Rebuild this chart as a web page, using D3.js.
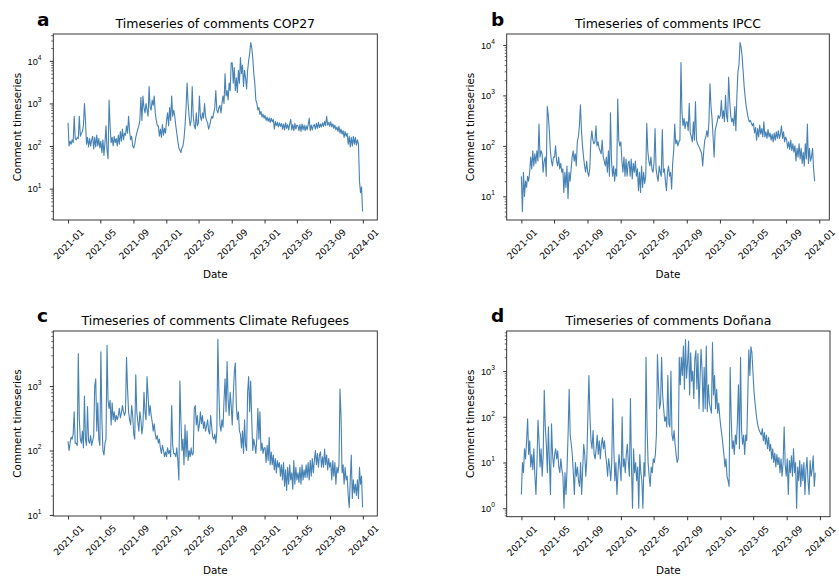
<!DOCTYPE html>
<html><head><meta charset="utf-8">
<script src="https://cdn.jsdelivr.net/npm/d3@7/dist/d3.min.js"></script>
<style>
body{margin:0;background:#fff}
svg{display:block;font-family:"DejaVu Sans",sans-serif}
</style>
</head><body>
<svg id="chart" width="839" height="577"></svg>
<script>
// ---------- DATA (~8 samples per month) ----------
const cop27Values = [
350,100,130,110,140,120,500,150, 140,160,150,500,170,200,220,300, 1000,400,110,160,95,150,100,140,
170,85,160,95,180,100,150,90, 130,70,140,60,120,300,80,50, 1200,300,120,160,100,170,120,150,
100,180,110,220,130,250,140,200, 180,300,200,500,220,140,170,100, 90,110,160,200,250,300,400,1400,
400,1500,800,600,1000,700,500,2500, 800,700,1200,900,1500,600,400,300, 300,170,250,160,320,180,260,200,
400,600,300,800,400,1500,500,700, 500,300,200,130,90,80,70,90, 100,150,300,800,3000,1000,500,300,
400,2500,500,300,250,600,300,350, 1500,500,400,600,450,1000,500,400, 350,250,300,400,500,450,600,800,
2000,700,600,800,900,600,1000,1500, 1000,5000,1500,2000,1200,3000,2000,9000, 9000,3000,7000,2000,4000,1800,6000,3000,
12000,5000,8000,2500,6000,4000,2200,6000, 10000,15000,27000,20000,12000,5000,3000,1200, 1000,700,800,550,650,480,560,450,
520,400,480,380,460,360,450,370, 420,250,380,300,360,280,350,290, 340,250,330,240,350,260,320,240,
330,420,240,320,230,340,250,310, 300,230,320,220,330,240,310,230, 300,240,320,450,230,310,240,300,
320,250,340,260,360,270,330,280, 350,290,380,300,500,310,360,290, 370,280,330,260,310,240,280,220,
290,200,250,190,230,160,220,170, 200,110,170,95,160,100,170,110, 160,105,140,110,15,8,11,2.9
];
const ipccValues = [
25,5,30,10,20,15,25,20, 30,60,35,80,40,70,45,80, 50,270,60,80,70,30,50,60,
25,600,400,200,80,50,40,60, 60,100,50,40,60,35,45,30, 35,12,30,15,40,9,30,20,
35,60,80,50,70,40,120,150, 250,650,200,100,60,40,30,50, 30,25,35,120,200,130,110,120,
250,100,120,90,80,70,130,60, 50,40,60,30,80,25,450,50, 25,40,20,35,25,850,130,100,
120,50,30,60,25,55,25,45, 50,25,55,22,45,30,50,25, 35,13,30,12,40,15,30,18,
25,280,80,50,40,60,35,30, 45,220,35,25,20,40,30,25, 210,30,35,20,13,30,40,25,
30,14,45,80,270,110,130,100, 120,130,4500,450,250,350,220,300, 300,200,700,180,150,120,300,130,
750,130,110,100,90,80,70,40, 80,130,150,200,150,300,1700,600, 350,150,60,200,250,300,400,350,
400,800,350,500,300,1000,400,300, 2300,800,400,300,350,250,600,200, 1000,3000,4000,11200,9000,6000,3000,1500,
900,600,450,350,300,320,280,250, 280,180,230,130,220,150,260,170, 220,150,300,150,190,140,210,150,
180,130,170,120,180,130,190,140, 200,140,170,250,140,190,120,150, 130,90,120,85,130,80,110,75,
100,50,90,60,110,55,90,45, 75,40,110,55,270,45,90,50, 60,90,35,20
];
const refugeesValues = [
140,100,130,160,150,180,400,130, 130,120,3200,300,150,130,200,110, 700,150,120,480,140,130,170,120,
140,170,1000,1300,200,550,150,120, 3400,300,100,85,130,150,4300,600, 450,600,250,550,300,400,280,350,
300,350,450,320,380,500,400,350, 400,2800,900,400,300,250,500,350, 180,150,1500,400,280,200,400,300,
180,250,800,400,300,1400,700,350, 500,350,280,200,260,180,150,170, 130,150,110,90,120,100,80,95,
80,110,90,100,80,500,120,90, 90,80,110,70,35,1200,300,100, 150,60,250,80,200,70,100,80,
110,85,90,450,500,250,350,200, 250,400,260,350,220,280,200,240, 300,200,180,350,230,160,150,180,
130,200,5300,800,250,200,300,230, 600,1300,400,2400,600,350,800,500, 250,700,1600,2300,500,300,400,200,
180,110,200,90,300,120,100,800, 1400,400,1200,300,100,150,120,90, 160,450,150,400,100,130,90,110,
110,65,120,70,160,60,95,60, 85,50,75,45,70,55,65,40, 60,35,65,28,50,24,55,30,
60,35,45,25,70,30,55,35, 45,32,55,30,60,35,50,38, 60,38,65,35,70,40,75,45,
70,100,60,90,55,85,95,55, 80,55,105,60,85,50,75,55, 65,35,70,40,65,30,55,45,
60,900,350,45,60,30,55,35, 40,20,13,35,85,18,35,22, 30,20,35,18,55,30,40,13
];
const donanaValues = [
2,10,6,20,12,30,90,15, 30,8,15,7,20,5,2,10, 85,30,8,20,5,15,380,60,
25,6,60,10,2,70,15,8, 15,20,12,18,8,6,12,7, 5,1,6,2,8,45,400,40,
25,15,6,2,10,5,8,4, 3,10,2,7,25,15,5,12, 100,800,100,30,20,50,15,12,
20,40,15,30,12,25,35,20, 30,15,10,5,12,8,4,10, 250,20,4,10,2,6,15,8,
4,100,8,12,6,15,25,10, 5,250,8,1,20,6,10,4, 8,1,15,6,4,1,10,5,
2000,60,10,5,3,8,6,12, 10,15,40,2300,500,150,200,2000, 300,150,80,100,60,800,70,60,
1000,40,30,50,25,15,10,12, 2000,500,2000,800,3500,400,4900,700, 1500,4500,300,2500,600,1000,250,1800,
2800,400,2400,150,700,3000,1000,130, 1200,150,3500,130,500,200,150,120, 4200,300,800,150,400,120,200,100,
60,40,25,15,8,12,5,4, 3,1200,100,20,30,15,40,25, 80,500,20,2000,50,25,40,15,
40,30,300,2900,800,3400,2500,900, 350,200,120,80,60,50,45,40, 55,30,45,25,40,20,35,18,
25,12,20,10,16,8,15,9, 13,6,12,5,10,60,9,5, 12,2,11,6,14,5,20,6,
10,1,8,4,11,3,9,4, 10,2,7,13,4,2,11,5, 7,14,3,6
];
const seriesStart = ["2021-01-01","2021-01-01","2021-01-01","2021-01-01"];
const seriesEnd   = ["2023-12-31","2023-12-15","2023-12-31","2023-12-15"];
const titles = ["Timeseries of comments COP27","Timeseries of comments IPCC",
                "Timeseries of comments Climate Refugees","Timeseries of comments Doñana"];
const letters = ["a","b","c","d"];
const xTickLabels = ["2021-01","2021-05","2021-09","2022-01","2022-05","2022-09","2023-01","2023-05","2023-09","2024-01"];
const yTickExponents = [[1,2,3,4],[1,2,3,4],[1,2,3],[0,1,2,3]];
const xLabel = "Date";
const yLabel = "Comment timeseries";

// ---------- LAYOUT ----------
const boxes = [
  {l:53.3, r:377.3, t:34, b:220, ylabX:20.5, xlabY:278, letX:37, letY:26},
  {l:506.7, r:829.3, t:34, b:220, ylabX:474, xlabY:278, letX:491, letY:26},
  {l:53.3, r:377.3, t:331, b:516, ylabX:20.5, xlabY:574, letX:37, letY:322},
  {l:506.7, r:830, t:331, b:516.7, ylabX:474, xlabY:574, letX:491, letY:322}
];
const allValues = [cop27Values, ipccValues, refugeesValues, donanaValues];
const lineColor = "#4682b4";
const tickFont = 9.2, labelFont = 10.4, titleFont = 12.5;
const majorLen = 3.5, minorLen = 2, tickPad = 3.6;

const svg = d3.select("#chart");
const parseDay = d3.timeParse("%Y-%m-%d");
const parseMonth = d3.timeParse("%Y-%m");
const fmtMonth = d3.timeFormat("%Y-%m");

allValues.forEach((vals, p) => {
  const bx = boxes[p];
  const s = parseDay(seriesStart[p]), e = parseDay(seriesEnd[p]);
  const n = vals.length;
  const data = vals.map((v, i) => ({date: new Date(+s + i * (e - s) / (n - 1)), v}));
  const span = e - s;
  const x = d3.scaleTime().domain([new Date(+s - 0.05 * span), new Date(+e + 0.05 * span)]).range([bx.l, bx.r]);
  const [mn, mx] = d3.extent(vals);
  const lmn = Math.log10(mn), lmx = Math.log10(mx), ls = lmx - lmn;
  const y = d3.scaleLog().domain([Math.pow(10, lmn - 0.05 * ls), Math.pow(10, lmx + 0.05 * ls)]).range([bx.b, bx.t]);

  const g = svg.append("g");

  // line
  g.append("path").datum(data)
    .attr("fill", "none").attr("stroke", lineColor).attr("stroke-width", 1.1)
    .attr("stroke-linejoin", "round")
    .attr("d", d3.line().x(d => x(d.date)).y(d => y(d.v)));

  // x axis
  const xTicks = xTickLabels.map(parseMonth);
  const xa = g.append("g").attr("transform", `translate(0,${bx.b})`)
    .call(d3.axisBottom(x).tickValues(xTicks).tickFormat(fmtMonth).tickSize(majorLen).tickSizeOuter(0).tickPadding(0));
  xa.select(".domain").remove();
  xa.selectAll(".tick line").attr("stroke", "#000").attr("stroke-width", 0.8);
  xa.selectAll(".tick text").each(function() {
    const t = d3.select(this);
    t.attr("font-size", tickFont).attr("font-family", "DejaVu Sans").attr("fill", "#000");
    const w = this.getComputedTextLength();
    const h = tickFont * 1.0;
    const H = (w + h) * Math.SQRT1_2;
    t.attr("y", null).attr("dy", null).attr("text-anchor", "middle").attr("dominant-baseline", "central")
     .attr("transform", `translate(0,${majorLen + tickPad + H / 2}) rotate(-45)`);
  });

  // y axis: minor ticks
  const [d0, d1] = y.domain();
  const minor = [];
  for (let k = Math.floor(Math.log10(d0)); k <= Math.ceil(Math.log10(d1)); k++) {
    for (let m = 2; m <= 9; m++) { const v = m * Math.pow(10, k); if (v >= d0 && v <= d1) minor.push(v); }
  }
  const ym = g.append("g").attr("transform", `translate(${bx.l},0)`)
    .call(d3.axisLeft(y).tickValues(minor).tickSize(minorLen).tickFormat(""));
  ym.select(".domain").remove();
  ym.selectAll(".tick line").attr("stroke", "#000").attr("stroke-width", 0.6);

  // y axis: major ticks
  const majors = yTickExponents[p].map(k => Math.pow(10, k));
  const ya = g.append("g").attr("transform", `translate(${bx.l},0)`)
    .call(d3.axisLeft(y).tickValues(majors).tickSize(majorLen).tickFormat(""));
  ya.select(".domain").remove();
  ya.selectAll(".tick line").attr("stroke", "#000").attr("stroke-width", 0.8);
  ya.selectAll(".tick").each(function(d) {
    const k = Math.round(Math.log10(d));
    const t = d3.select(this).append("text")
      .attr("x", -11.8).attr("y", 0).attr("dy", "0.36em")
      .attr("text-anchor", "end").attr("font-size", tickFont).attr("fill", "#000");
    t.append("tspan").text("10");
    t.append("tspan").attr("font-size", tickFont * 0.72).attr("dy", "-0.75em").text(String(k));
  });

  // frame
  g.append("rect").attr("x", bx.l).attr("y", bx.t).attr("width", bx.r - bx.l).attr("height", bx.b - bx.t)
    .attr("fill", "none").attr("stroke", "#222").attr("stroke-width", 0.9);

  // title, labels, letter
  g.append("text").attr("x", (bx.l + bx.r) / 2).attr("y", bx.t - 6.2)
    .attr("text-anchor", "middle").attr("font-size", titleFont).attr("fill", "#000").text(titles[p]);
  g.append("text").attr("x", (bx.l + bx.r) / 2).attr("y", bx.xlabY)
    .attr("text-anchor", "middle").attr("font-size", labelFont).attr("fill", "#000").text(xLabel);
  g.append("text").attr("transform", `translate(${bx.ylabX},${(bx.t + bx.b) / 2}) rotate(-90)`)
    .attr("text-anchor", "middle").attr("font-size", labelFont).attr("fill", "#000").text(yLabel);
  g.append("text").attr("x", bx.letX).attr("y", bx.letY)
    .attr("font-size", 18.5).attr("font-weight", "bold").attr("fill", "#000").text(letters[p]);
});
</script>
</body></html>
